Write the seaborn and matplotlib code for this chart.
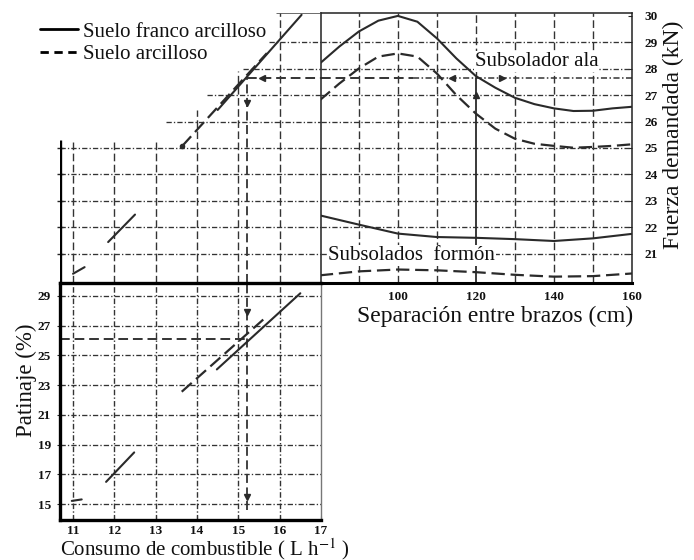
import numpy as np
import pandas as pd
import matplotlib
matplotlib.use("Agg")
import matplotlib.pyplot as plt
from matplotlib.lines import Line2D
import seaborn as sns

# ------------------------------------------------------------------ data
separacion = [80, 85, 90, 95, 100, 105, 110, 115, 120, 125, 130, 135, 140, 145, 150, 155, 160]
ala_franco = [28.20, 28.84, 29.41, 29.82, 30.0, 29.78, 29.15, 28.39, 27.72, 27.28,
              26.90, 26.66, 26.50, 26.40, 26.41, 26.50, 26.56]
ala_arcilloso = [26.81, 27.44, 28.01, 28.46, 28.58, 28.46, 27.82, 27.00, 26.30, 25.73,
                 25.35, 25.16, 25.08, 25.01, 25.04, 25.08, 25.14]
separacion_formon = [80, 90, 100, 110, 120, 130, 140, 150, 160]
formon_franco = [22.45, 22.10, 21.76, 21.63, 21.60, 21.55, 21.48, 21.58, 21.75]
formon_arcilloso = [20.18, 20.33, 20.40, 20.37, 20.30, 20.20, 20.13, 20.15, 20.25]

# consumo (L/h) vs fuerza (kN) -- upper-left quadrant
fz_franco_consumo = [11.00, 11.28, 11.85, 12.50, 14.50, 16.53]
fz_franco_fuerza = [20.24, 20.49, 21.44, 22.48, 26.44, 30.04]
fz_franco_tramo = [1, 1, 2, 2, 3, 3]
fz_arcilloso_consumo = [13.64, 15.69]
fz_arcilloso_fuerza = [25.07, 28.59]

# consumo (L/h) vs patinaje (%) -- lower-left quadrant
pt_franco_consumo = [10.97, 11.21, 11.80, 12.48, 14.48, 16.50]
pt_franco_patinaje = [15.22, 15.32, 16.50, 18.48, 24.06, 29.18]
pt_franco_tramo = [1, 1, 2, 2, 3, 3]
pt_arcilloso_consumo = [13.63, 15.61]
pt_arcilloso_patinaje = [22.56, 27.43]

# example reading path
ej_separacion = 120
ej_fuerza = 27.64
ej_consumo = 15.2
ej_patinaje = 26.08

# ticks
sep_ticks = [100, 120, 140, 160]
fuerza_ticks = [21, 22, 23, 24, 25, 26, 27, 28, 29, 30]
consumo_ticks = [11, 12, 13, 14, 15, 16, 17]
patinaje_ticks = [15, 17, 19, 21, 23, 25, 27, 29]

# texts
leyenda = ["Suelo franco arcilloso", "Suelo arcilloso"]
txt_ala = "Subsolador ala"
txt_formon = "Subsolados  formón"
lab_sep = "Separación entre brazos (cm)"
lab_fuerza = "Fuerza demandada (kN)"
lab_pat = "Patinaje (%)"
lab_cons = r"Consumo de combustible ( L h$^{-1}$ )"

# ------------------------------------------------------------------ style
sns.set_style("white")
plt.rcParams["font.family"] = ["Liberation Serif", "DejaVu Serif"]
plt.rcParams["mathtext.fontset"] = "stix"

W, H = 694, 560
fig = plt.figure(figsize=(W / 100, H / 100), dpi=100)
fig.patch.set_facecolor("white")

def px_axes(l, t, r, b):
    return fig.add_axes([l / W, 1 - b / H, (r - l) / W, (b - t) / H])

LC = "#2a2a2a"
TC = "#111111"
GC = "#333333"
DASH = (0, (6, 2.6))
GRID_DD = (0, (4, 1.6, 1, 1.6))
GRID_DA = (0, (5.5, 2.5))

F_LIM = (19.89, 30.11)
C_LIM = (10.685, 17.0)
P_LIM = (13.97, 29.87)
S_LIM = (80.3, 160.0)

tick_font = dict(fontsize=9.5, fontweight="bold", color=TC)

# ------------------------------------------------------------------ top-right: fuerza vs separacion
ax_tr = px_axes(321, 13, 632, 283)
ax_tr.set_xlim(*S_LIM)
ax_tr.set_ylim(*F_LIM)
for v in [90, 100, 110, 130, 140, 150]:
    ax_tr.axvline(v, color=GC, lw=1.0, ls=GRID_DA, zorder=1)
ax_tr.axvline(120, ymin=(ej_fuerza - F_LIM[0]) / (F_LIM[1] - F_LIM[0]), color=GC, lw=1.0, ls=GRID_DA, zorder=1)
for h in fuerza_ticks[:-1]:
    ax_tr.axhline(h, color=GC, lw=0.95, ls=GRID_DD, zorder=1)

sns.lineplot(x=separacion, y=ala_franco, ax=ax_tr, color=LC, lw=1.5, estimator=None, zorder=3)
sns.lineplot(x=separacion, y=ala_arcilloso, ax=ax_tr, color=LC, lw=1.6, linestyle=DASH, estimator=None, zorder=3)
sns.lineplot(x=separacion_formon, y=formon_franco, ax=ax_tr, color=LC, lw=1.5, estimator=None, zorder=3)
sns.lineplot(x=separacion_formon, y=formon_arcilloso, ax=ax_tr, color=LC, lw=1.6, linestyle=DASH, estimator=None, zorder=3)

# example path
ax_tr.plot([S_LIM[0], 104], [ej_fuerza, ej_fuerza], color=GC, lw=1.4, ls=(0, (5, 2.5)), zorder=2)
ax_tr.plot([104, S_LIM[1]], [ej_fuerza, ej_fuerza], color=GC, lw=1.1, ls=(0, (4, 1.6, 1, 1.6)), zorder=2)
ax_tr.plot([ej_separacion, ej_separacion], [F_LIM[0], ej_fuerza], color=LC, lw=1.3, zorder=2)
ax_tr.plot([113.9], [ej_fuerza], marker="<", ms=4.5, color=LC, zorder=4)
ax_tr.plot([126.7], [ej_fuerza], marker=">", ms=4.5, color=LC, zorder=4)
ax_tr.plot([ej_separacion], [27.0], marker="^", ms=4.5, color=LC, zorder=4)

ax_tr.text(119.75, 28.1, txt_ala, fontsize=15, color=TC, va="baseline", ha="left", zorder=5,
           bbox=dict(facecolor="white", edgecolor="none", pad=0.5))
ax_tr.text(82.1, 20.76, txt_formon, fontsize=15, color=TC, va="baseline", ha="left", zorder=5,
           bbox=dict(facecolor="white", edgecolor="none", pad=0.5))

ax_tr.set_xticks(sep_ticks)
ax_tr.set_xticklabels([str(t) for t in sep_ticks], **tick_font)
ax_tr.set_yticks(fuerza_ticks)
ax_tr.set_yticklabels([str(t) for t in fuerza_ticks], **tick_font)
ax_tr.yaxis.tick_right()
ax_tr.tick_params(axis="y", direction="in", length=3, pad=9, left=False, right=True)
ax_tr.tick_params(axis="x", direction="in", length=3, pad=6)
ax_tr.set_xlabel("")
ax_tr.set_ylabel("")
for s in ["left", "right", "top"]:
    ax_tr.spines[s].set_color("#222222")
    ax_tr.spines[s].set_linewidth(1.1)
ax_tr.spines["bottom"].set_color("black")
ax_tr.spines["bottom"].set_linewidth(2.2)

# ------------------------------------------------------------------ top-left: fuerza vs consumo
ax_tl = px_axes(60, 13, 321, 283)
ax_tl.set_xlim(*C_LIM)
ax_tl.set_ylim(*F_LIM)
ax_tl.patch.set_alpha(0)
for s in ax_tl.spines.values():
    s.set_visible(False)

tl_h_grid = [21, 22, 23, 24, 25, 26, 27, 28, 29]
tl_h_start = [C_LIM[0]] * 5 + [13.24, 14.24, 15.12, 15.75]
for h, x0 in zip(tl_h_grid, tl_h_start):
    ax_tl.plot([x0, C_LIM[1]], [h, h], color=GC, lw=0.95, ls=GRID_DD, zorder=1)
tl_v_grid = [11, 12, 13, 14, 15, 16]
tl_v_top = [25.3, 25.3, 25.3, 26.44, 27.93, F_LIM[1]]
for v, y1 in zip(tl_v_grid, tl_v_top):
    ax_tl.plot([v, v], [F_LIM[0], y1], color=GC, lw=1.0, ls=GRID_DA, zorder=1)
ax_tl.plot([C_LIM[0], C_LIM[0]], [F_LIM[0], 25.3], color="black", lw=2.4, zorder=2, solid_capstyle="butt")
ax_tl.plot([15.93, C_LIM[1]], [F_LIM[1], F_LIM[1]], color="#444444", lw=1.1, zorder=2)

sns.lineplot(x=fz_franco_consumo, y=fz_franco_fuerza, units=fz_franco_tramo, ax=ax_tl,
             color=LC, lw=1.5, estimator=None, zorder=3)
sns.lineplot(x=fz_arcilloso_consumo, y=fz_arcilloso_fuerza, ax=ax_tl,
             color=LC, lw=1.6, linestyle=DASH, estimator=None, zorder=3)
ax_tl.plot([fz_arcilloso_consumo[0]], [fz_arcilloso_fuerza[0]], "o", ms=3, color=LC, zorder=3)

ax_tl.plot([ej_consumo, C_LIM[1]], [ej_fuerza, ej_fuerza], color=GC, lw=1.4, ls=(0, (5, 2.5)), zorder=2)
ax_tl.plot([ej_consumo, ej_consumo], [F_LIM[0], ej_fuerza], color=GC, lw=1.3, ls=(0, (5, 2.5)), zorder=2)
ax_tl.plot([15.58], [ej_fuerza], marker="<", ms=4.5, color=LC, zorder=4)
ax_tl.plot([ej_consumo], [26.7], marker="v", ms=4.5, color=LC, zorder=4)

ax_tl.set_xticks([])
ax_tl.set_yticks([21, 22, 23, 24, 25])
ax_tl.set_yticklabels([])
ax_tl.tick_params(axis="y", direction="inout", length=5, width=1.0, left=True)
ax_tl.set_xlabel("")
ax_tl.set_ylabel("")

# ------------------------------------------------------------------ bottom-left: patinaje vs consumo
ax_bl = px_axes(60, 283, 321, 519.5)
ax_bl.set_xlim(*C_LIM)
ax_bl.set_ylim(*P_LIM)
for v in consumo_ticks[:-1]:
    ax_bl.axvline(v, color=GC, lw=1.0, ls=GRID_DD, zorder=1)
for h in patinaje_ticks:
    ax_bl.axhline(h, color=GC, lw=0.95, ls=GRID_DD, zorder=1)

sns.lineplot(x=pt_franco_consumo, y=pt_franco_patinaje, units=pt_franco_tramo, ax=ax_bl,
             color=LC, lw=1.5, estimator=None, zorder=3)
sns.lineplot(x=pt_arcilloso_consumo, y=pt_arcilloso_patinaje, ax=ax_bl,
             color=LC, lw=1.6, linestyle=DASH, estimator=None, zorder=3)

ax_bl.plot([ej_consumo, ej_consumo], [14.6, P_LIM[1]], color=GC, lw=1.3, ls=(0, (5, 2.5)), zorder=2)
ax_bl.plot([C_LIM[0], ej_consumo], [ej_patinaje, ej_patinaje], color=GC, lw=1.4, ls=(0, (5, 2.5)), zorder=2)
ax_bl.plot([ej_consumo], [27.9], marker="v", ms=4.5, color=LC, zorder=4)
ax_bl.plot([ej_consumo], [15.5], marker="v", ms=4.5, color=LC, zorder=4)

ax_bl.set_xticks(consumo_ticks)
ax_bl.set_xticklabels([str(t) for t in consumo_ticks], **tick_font)
ax_bl.set_yticks(patinaje_ticks)
ax_bl.set_yticklabels([str(t) for t in patinaje_ticks], **tick_font)
ax_bl.tick_params(axis="y", direction="inout", length=5, pad=4, left=True)
ax_bl.tick_params(axis="x", direction="in", length=3, pad=4, bottom=True)
ax_bl.set_xlabel("")
ax_bl.set_ylabel("")
for s in ["left", "bottom", "top"]:
    ax_bl.spines[s].set_color("black")
    ax_bl.spines[s].set_linewidth(2.4)
ax_bl.spines["right"].set_color("#777777")
ax_bl.spines["right"].set_linewidth(1.0)

# ------------------------------------------------------------------ labels and legend
fig.text(495.5 / W, 1 - 322 / H, lab_sep, fontsize=17, color=TC, ha="center", va="baseline")
fig.text(673 / W, 1 - 135 / H, lab_fuerza, fontsize=17, color=TC, ha="center", va="center", rotation=90)
fig.text(26 / W, 1 - 380 / H, lab_pat, fontsize=16.5, color=TC, ha="center", va="center", rotation=90)
fig.text(60 / W, 1 - 555 / H, lab_cons, fontsize=15, color=TC, ha="left", va="baseline")

handles = [Line2D([], [], color="black", lw=2.0),
           Line2D([], [], color="black", lw=2.0, ls=(0, (3, 2)))]
fig.legend(handles, leyenda, loc="upper left", bbox_to_anchor=(40 / W, 1 - 22 / H),
           frameon=False, fontsize=15, handlelength=1.8, handletextpad=0.25,
           labelspacing=0.15, borderpad=0, borderaxespad=0, labelcolor=TC)

fig.savefig("out.png", dpi=100, facecolor="white")
